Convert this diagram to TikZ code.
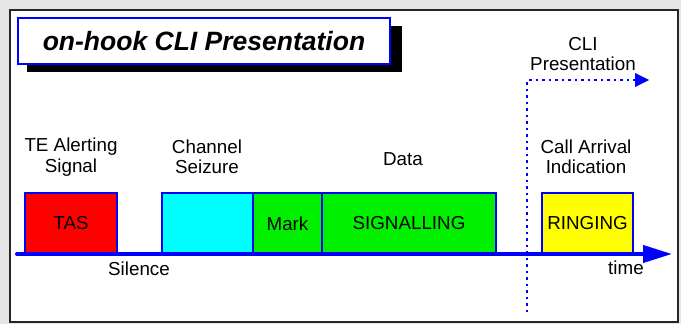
\documentclass[tikz,border=0pt]{standalone}
\usepackage{fontspec}
\setmainfont{Liberation Sans}
\usetikzlibrary{arrows.meta}
\definecolor{bggray}{HTML}{E6E6E6}
\definecolor{sigred}{HTML}{FF0000}
\definecolor{sigcyan}{HTML}{00FFFF}
\definecolor{siggreen}{HTML}{00F000}
\definecolor{sigyellow}{HTML}{FFFF00}
\tikzset{
  lbl/.style={font=\fontsize{18.8}{20.5}\selectfont, align=center, inner sep=0pt},
  sigbox/.style={draw=blue, line width=1.5pt, font=\fontsize{18.8}{20.5}\selectfont},
  axis/.style={blue, line width=4pt},
  dotline/.style={blue, line width=2.5pt, dash pattern=on 2.5pt off 4pt},
}
\begin{document}
\begin{tikzpicture}[x=1pt,y=-1pt]
\useasboundingbox (0,0) rectangle (681,324);
\fill[bggray] (0,0) rectangle (681,324);
\draw[fill=white, draw=black!85, line width=2pt] (10,10) rectangle (678,322);
% title
\fill[black] (27,26) rectangle (402,72);
\node[draw=blue, fill=white, line width=1.5pt, minimum width=372pt, minimum height=46pt, inner sep=0pt,
      font=\fontsize{26.5}{28}\selectfont\bfseries\itshape] (title) at (204,41) {on-hook CLI Presentation};
% boxes
\node[sigbox, fill=sigred, minimum width=92pt, minimum height=60pt] (tas) at (71,223) {TAS};
\node[sigbox, fill=sigcyan, minimum width=91pt, minimum height=61pt] (cs) at (207.5,223.5) {};
\node[sigbox, fill=siggreen, minimum width=69pt, minimum height=61pt] (mark) at (287.5,223.5) {Mark};
\node[sigbox, fill=siggreen, minimum width=174pt, minimum height=61pt] (sig) at (409,223.5) {SIGNALLING};
\node[sigbox, fill=sigyellow, minimum width=91pt, minimum height=60pt] (ring) at (587.5,223) {RINGING};
% axis
\coordinate (ax0) at (17,254);
\coordinate (ax1) at (672,254);
\draw[axis, line cap=round, -{Triangle[length=29pt,width=17pt]}] (ax0) -- (ax1);
% dotted CLI line
\coordinate (d0) at (527,312);
\coordinate (d1) at (527,80);
\coordinate (d2) at (649,80);
\draw[dotline] (d0) -- (d1) -- ([xshift=-14pt]d2);
\fill[blue] (d2) -- ++(-14,-7) -- ++(0,14) -- cycle;
% labels
\node[lbl] (l1) at (71,157) {TE Alerting\\Signal};
\node[lbl] (l2) at (207,157) {Channel\\Seizure};
\node[lbl] (l3) at (403,159) {Data};
\node[lbl] (l4) at (586,157) {Call Arrival\\Indication};
\node[lbl] (l5) at (583,54) {CLI\\Presentation};
\node[lbl] (l6) at (139,269) {Silence};
\node[lbl] (l7) at (626,268) {time};
\end{tikzpicture}
\end{document}
